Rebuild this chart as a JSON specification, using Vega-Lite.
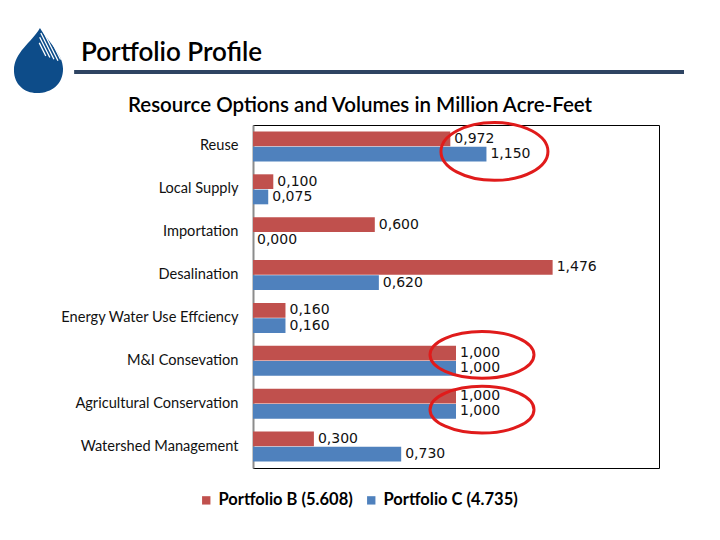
{
  "$schema": "https://vega.github.io/schema/vega-lite/v6.json",
  "background": "white",
  "padding": {"left": 12, "top": 28, "right": 10, "bottom": 10},
  "config": {
    "font": "Lato",
    "locale": {"number": {"decimal": ",", "thousands": ".", "grouping": [3], "currency": ["", ""]}}
  },
  "datasets": {
    "volumes": [
      {"resource": "Reuse", "portfolio": "Portfolio B (5.608)", "volume": 0.972},
      {"resource": "Reuse", "portfolio": "Portfolio C (4.735)", "volume": 1.150},
      {"resource": "Local Supply", "portfolio": "Portfolio B (5.608)", "volume": 0.100},
      {"resource": "Local Supply", "portfolio": "Portfolio C (4.735)", "volume": 0.075},
      {"resource": "Importation", "portfolio": "Portfolio B (5.608)", "volume": 0.600},
      {"resource": "Importation", "portfolio": "Portfolio C (4.735)", "volume": 0.000},
      {"resource": "Desalination", "portfolio": "Portfolio B (5.608)", "volume": 1.476},
      {"resource": "Desalination", "portfolio": "Portfolio C (4.735)", "volume": 0.620},
      {"resource": "Energy Water Use Effciency", "portfolio": "Portfolio B (5.608)", "volume": 0.160},
      {"resource": "Energy Water Use Effciency", "portfolio": "Portfolio C (4.735)", "volume": 0.160},
      {"resource": "M&I Consevation", "portfolio": "Portfolio B (5.608)", "volume": 1.000},
      {"resource": "M&I Consevation", "portfolio": "Portfolio C (4.735)", "volume": 1.000},
      {"resource": "Agricultural Conservation", "portfolio": "Portfolio B (5.608)", "volume": 1.000},
      {"resource": "Agricultural Conservation", "portfolio": "Portfolio C (4.735)", "volume": 1.000},
      {"resource": "Watershed Management", "portfolio": "Portfolio B (5.608)", "volume": 0.300},
      {"resource": "Watershed Management", "portfolio": "Portfolio C (4.735)", "volume": 0.730}
    ]
  },
  "spacing": 2,
  "vconcat": [
    {
      "width": 431,
      "height": 65,
      "view": {"stroke": null},
      "data": {"values": [{}]},
      "layer": [
        {
          "mark": {"type": "rule", "color": "#2E4462", "strokeWidth": 4, "clip": false},
          "encoding": {
            "x": {"datum": -0.415, "type": "quantitative", "scale": {"domain": [0, 1], "nice": false, "zero": false}, "axis": null},
            "x2": {"datum": 1},
            "y": {"datum": 0.323, "type": "quantitative", "scale": {"domain": [0, 1], "nice": false, "zero": false}, "axis": null}
          }
        },
        {
          "mark": {"type": "text", "text": "Portfolio Profile", "align": "left", "baseline": "middle", "font": "Lato", "fontSize": 26, "fontWeight": 600, "color": "#000000", "clip": false},
          "encoding": {
            "x": {"datum": -0.399, "type": "quantitative"},
            "y": {"datum": 0.615, "type": "quantitative"}
          }
        },
        {
          "mark": {"type": "point", "shape": "M0.06,-1C-0.2,-0.55 -0.74,-0.25 -0.74,0.3C-0.74,0.75 -0.4,1 -0.05,1C0.45,1 0.77,0.7 0.77,0.25C0.77,-0.2 0.3,-0.6 0.06,-1Z", "size": 4225, "filled": true, "color": "#0D4C89", "opacity": 1, "clip": false},
          "encoding": {
            "x": {"datum": -0.4988, "type": "quantitative"},
            "y": {"datum": 0.5, "type": "quantitative"}
          }
        },
        {
          "mark": {"type": "point", "shape": "M0.293,-0.837L0.695,-0.032M0.167,-0.886L0.614,0.008M0.087,-0.846L0.489,-0.041M0.051,-0.716L0.364,-0.09M0.038,-0.542L0.239,-0.139", "size": 4225, "filled": false, "stroke": "#ffffff", "strokeWidth": 1.3, "opacity": 1, "clip": false},
          "encoding": {
            "x": {"datum": -0.4988, "type": "quantitative"},
            "y": {"datum": 0.5, "type": "quantitative"}
          }
        }
      ]
    },
    {
      "width": 406,
      "height": 343,
      "title": {"text": "Resource Options and Volumes in Million Acre-Feet", "font": "Lato", "fontSize": 20.5, "fontWeight": 600, "color": "#000000", "anchor": "middle", "frame": "group", "dx": -96, "offset": 0},
      "view": {"stroke": "#000000", "strokeWidth": 1},
      "data": {"name": "volumes"},
      "encoding": {
        "y": {
          "field": "resource", "type": "nominal", "sort": null,
          "scale": {"domain": ["Reuse", "Local Supply", "Importation", "Desalination", "Energy Water Use Effciency", "M&I Consevation", "Agricultural Conservation", "Watershed Management"], "paddingInner": 0.3, "paddingOuter": 0.15},
          "axis": {"title": null, "ticks": false, "domainColor": "#8C8C8C", "domainWidth": 2, "labelFont": "Lato", "labelFontSize": 14.6, "labelColor": "#111111", "labelPadding": 15, "minExtent": 240, "maxExtent": 240}
        },
        "x": {"field": "volume", "type": "quantitative", "scale": {"domain": [0, 2], "nice": false}, "axis": null}
      },
      "layer": [
        {
          "mark": {"type": "bar"},
          "encoding": {
            "yOffset": {"field": "portfolio", "type": "nominal", "sort": null, "scale": {"paddingInner": 0.04}},
            "color": {
              "field": "portfolio", "type": "nominal", "sort": null,
              "scale": {"range": ["#C0504D", "#4F81BD"]},
              "legend": {"title": null, "orient": "none", "legendX": -55, "legendY": 464, "direction": "horizontal", "symbolType": "square", "symbolSize": 70, "symbolStrokeWidth": 0, "labelFont": "Lato", "labelFontSize": 16.5, "labelFontWeight": "bold", "labelColor": "#000000", "columnPadding": 10}
            }
          }
        },
        {
          "mark": {"type": "text", "align": "left", "baseline": "middle", "dx": 4, "font": "DejaVu Sans", "fontSize": 14, "color": "#111111"},
          "encoding": {
            "yOffset": {"field": "portfolio", "type": "nominal", "sort": null},
            "text": {"field": "volume", "type": "quantitative", "format": ".3f"}
          }
        },
        {
          "transform": [
            {"filter": "datum.resource === 'Reuse'"},
            {"aggregate": [{"op": "max", "field": "volume", "as": "volume"}], "groupby": ["resource"]}
          ],
          "mark": {"type": "point", "shape": "M-1,0A1,0.54 0 1 1 1,0A1,0.54 0 1 1 -1,0Z", "size": 11449, "filled": false, "stroke": "#E01B1B", "strokeWidth": 3, "opacity": 1, "xOffset": 8, "yOffset": 5, "clip": false},
          "encoding": {}
        },
        {
          "transform": [
            {"filter": "datum.resource === 'M&I Consevation'"},
            {"aggregate": [{"op": "max", "field": "volume", "as": "volume"}], "groupby": ["resource"]}
          ],
          "mark": {"type": "point", "shape": "M-1,0A1,0.45 0 1 1 1,0A1,0.45 0 1 1 -1,0Z", "size": 10816, "filled": false, "stroke": "#E01B1B", "strokeWidth": 3, "opacity": 1, "xOffset": 26, "yOffset": -6, "clip": false},
          "encoding": {}
        },
        {
          "transform": [
            {"filter": "datum.resource === 'Agricultural Conservation'"},
            {"aggregate": [{"op": "max", "field": "volume", "as": "volume"}], "groupby": ["resource"]}
          ],
          "mark": {"type": "point", "shape": "M-1,0A1,0.45 0 1 1 1,0A1,0.45 0 1 1 -1,0Z", "size": 10816, "filled": false, "stroke": "#E01B1B", "strokeWidth": 3, "opacity": 1, "xOffset": 26, "yOffset": 6, "clip": false},
          "encoding": {}
        }
      ]
    }
  ]
}
